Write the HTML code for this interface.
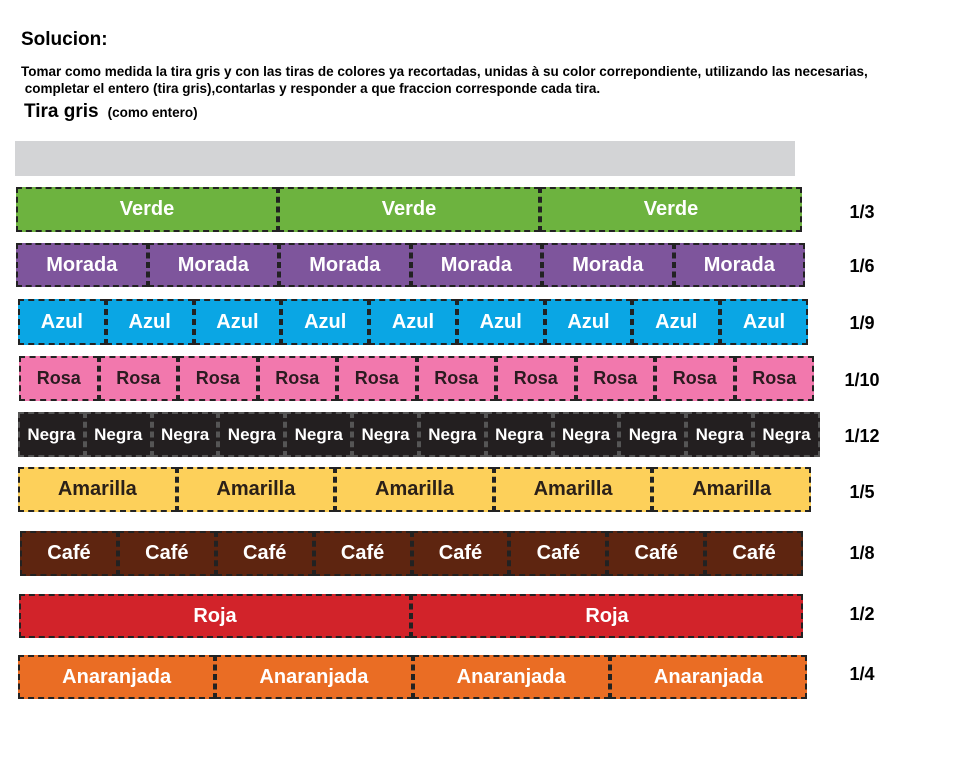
<!DOCTYPE html>
<html><head><meta charset="utf-8"><style>
body{margin:0;width:954px;height:759px;background:#fff;position:relative;font-family:"Liberation Sans",Arial,sans-serif;overflow:hidden}
.t{position:absolute;font-weight:bold;color:#000;white-space:nowrap}
.strip{position:absolute;display:flex}
.piece{box-sizing:border-box;border:2px dashed #222;display:flex;align-items:center;justify-content:center;font-weight:bold;overflow:hidden;white-space:nowrap}
.lab{position:absolute;left:842px;font-weight:bold;font-size:18px;width:40px;text-align:center}
</style></head><body>
<div class="t" style="left:21px;top:29px;font-size:19px">Solucion:</div>
<div class="t" style="left:21px;top:63px;font-size:13.5px;line-height:17px">Tomar como medida la tira gris y con las tiras de colores ya recortadas, unidas à su color correpondiente, utilizando las necesarias,<br>&nbsp;completar el entero (tira gris),contarlas y responder a que fraccion corresponde cada tira.</div>
<div class="t" style="left:24px;top:101px;font-size:19px">Tira gris <span style="font-size:13.5px">&nbsp;(como entero)</span></div>
<div style="position:absolute;left:15px;top:141px;width:780px;height:35px;background:#d3d4d6"></div>
<div id="strips"></div>
<script>
const names=["Verde","Morada","Azul","Rosa","Negra","Amarilla","Café","Roja","Anaranjada"];
const counts=[3,6,9,10,12,5,8,2,4];
const fractions=["1/3","1/6","1/9","1/10","1/12","1/5","1/8","1/2","1/4"];
const colors=["#6db33f","#7e559c","#0aa6e4","#f278ad","#231f20","#fdd05a","#5e2510","#d2232a","#ea6d24"];
const textColors=["#fff","#fff","#fff","#2b1b20","#fff","#2b2018","#fff","#fff","#fff"];
const geo=[[16,802,187,45],[16,805,243,44],[18,808,299,46],[19,814,356,45],[18,820,412,45],[18,811,467,45],[20,803,531,45],[19,803,594,44],[18,807,655,44]];
const labY=[202,256,313,370,426,482,543,604,664];
const fs=[20,20,20,18,17,20,20,20,20];
const root=document.getElementById('strips');
names.forEach((n,i)=>{
  const s=document.createElement('div');s.className='strip';
  
  
  const g=geo[i];
  s.style.cssText=`left:${g[0]}px;top:${g[2]}px;width:${g[1]-g[0]}px;height:${g[3]}px`;
  for(let k=0;k<counts[i];k++){
    const p=document.createElement('div');p.className='piece';
    
    
    p.style.width=((g[1]-g[0])/counts[i])+'px';
    p.style.background=colors[i];p.style.color=textColors[i];p.style.fontSize=fs[i]+'px';
    if(i==4){p.style.borderColor='#555';}
    p.textContent=n;s.appendChild(p);
  }
  root.appendChild(s);
  const l=document.createElement('div');l.className='lab';
  
  
  l.style.top=labY[i]+'px';l.textContent=fractions[i];root.appendChild(l);
});
</script>
</body></html>
